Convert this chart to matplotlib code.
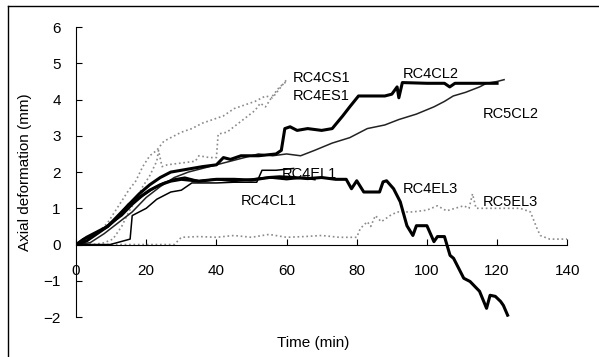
import matplotlib
matplotlib.use("Agg")
import matplotlib.pyplot as plt
from matplotlib.lines import Line2D

plt.rcParams["font.family"] = ["Liberation Sans", "DejaVu Sans"]

# Data (time in min, axial deformation in mm)
t_cs1 = [0, 3, 6, 9, 11, 13, 15, 17, 19, 21, 23, 25, 28, 30, 33, 36, 39, 42, 45, 48, 51, 54, 56, 58, 60]
y_cs1 = [0, 0.1, 0.3, 0.6, 0.9, 1.2, 1.5, 1.75, 2.15, 2.45, 2.6, 2.85, 3.0, 3.1, 3.2, 3.35, 3.45, 3.55, 3.75,
         3.85, 3.95, 4.1, 4.05, 4.3, 4.55]

t_es1 = [0, 5, 8, 10.5, 13, 15, 17.5, 19, 21, 23, 23.5, 24.5, 26, 30, 34, 35, 38, 40, 40.5, 43, 45, 47, 49, 51,
         52.5, 54, 56, 58, 60]
y_es1 = [0, 0, 0.05, 0.15, 0.5, 0.9, 1.3, 1.6, 1.9, 2.3, 2.6, 2.15, 2.2, 2.25, 2.3, 2.45, 2.4, 2.4, 3.05, 3.1,
         3.25, 3.4, 3.55, 3.7, 3.9, 3.8, 4.1, 4.35, 4.5]

t_cl2 = [0, 3, 6, 9, 12, 15, 18, 21, 24, 27, 30, 33, 36, 40, 42, 44, 47, 52, 57, 58.5, 59.5, 61, 63, 66, 70, 73,
         76, 78, 80.5, 85, 88, 90, 91.5, 92, 93, 100, 105, 106.5, 108, 115, 120]
y_cl2 = [0, 0.1, 0.3, 0.5, 0.8, 1.1, 1.4, 1.65, 1.85, 2.0, 2.05, 2.1, 2.15, 2.2, 2.4, 2.35, 2.45, 2.45, 2.5, 2.6,
         3.2, 3.25, 3.15, 3.2, 3.15, 3.2, 3.55, 3.8, 4.1, 4.1, 4.1, 4.15, 4.35, 4.05, 4.47, 4.45, 4.45, 4.35, 4.45,
         4.45, 4.45]

t_5cl2 = [0, 4, 8, 12, 16, 20, 24, 28, 32, 36, 40, 44, 48, 52, 56, 60, 64, 68, 73, 78, 83, 88, 92, 97, 102, 105,
          107.5, 111, 115, 117, 120, 122]
y_5cl2 = [0, 0.05, 0.3, 0.6, 0.9, 1.3, 1.6, 1.85, 2.0, 2.1, 2.2, 2.3, 2.4, 2.5, 2.45, 2.5, 2.45, 2.6, 2.8, 2.95,
          3.2, 3.3, 3.45, 3.6, 3.8, 3.95, 4.1, 4.2, 4.35, 4.45, 4.5, 4.55]

t_el1 = [0, 2, 5, 8, 10, 13, 16, 19, 22, 25, 28, 31, 35, 40, 45, 50, 55, 60, 65, 68]
y_el1 = [0, 0.15, 0.25, 0.45, 0.6, 0.8, 1.1, 1.35, 1.55, 1.7, 1.8, 1.85, 1.75, 1.8, 1.75, 1.8, 1.85, 1.8, 1.85, 1.8]

t_cl1 = [0, 9.7, 15.4, 16, 20, 23, 27, 30, 33, 40, 45, 51.5, 53, 57, 62]
y_cl1 = [0, 0, 0.15, 0.8, 1.0, 1.25, 1.45, 1.5, 1.7, 1.7, 1.72, 1.72, 2.05, 2.05, 2.1]

t_el3 = [0, 3, 6, 9, 12, 15, 18, 21, 24, 27, 30, 35, 40, 45, 50, 55, 58, 62, 66, 70, 74, 77, 78.5, 80, 82, 86.5,
         87.5, 88.5, 90.5, 92.4, 94.3, 96, 97, 100, 102, 103, 105, 106.6, 107.6, 110.5, 112.3, 115, 117, 118,
         119.5, 121, 121.8, 123]
y_el3 = [0, 0.2, 0.35, 0.5, 0.75, 1.1, 1.3, 1.5, 1.65, 1.75, 1.8, 1.75, 1.8, 1.8, 1.78, 1.85, 1.87, 1.85, 1.82,
         1.85, 1.8, 1.8, 1.54, 1.76, 1.45, 1.45, 1.73, 1.76, 1.54, 1.18, 0.52, 0.25, 0.52, 0.52, 0.08, 0.22, 0.22,
         -0.3, -0.38, -0.93, -1.02, -1.29, -1.76, -1.4, -1.43, -1.57, -1.68, -1.95]

t_5el3 = [0, 28, 30, 35, 40, 45, 50, 55, 60, 65, 70, 75, 80, 81, 83, 84, 85.3, 87, 89.5, 91.5, 96, 100, 103,
          105.6, 108, 110.5, 112, 113, 114, 120, 126.6, 129.5, 131.4, 132.3, 135, 140]
y_5el3 = [0, 0, 0.2, 0.22, 0.2, 0.25, 0.2, 0.28, 0.2, 0.22, 0.25, 0.2, 0.2, 0.44, 0.63, 0.5, 0.8, 0.63, 0.8, 0.9,
          0.9, 0.95, 1.07, 0.93, 1.0, 1.07, 1.0, 1.4, 1.0, 1.0, 1.0, 0.9, 0.44, 0.25, 0.15, 0.15]

# label text and where it sits (left edge, vertical centre) in data units
labels = ["RC4CS1", "RC4ES1", "RC4CL2", "RC5CL2", "RC4EL1", "RC4CL1", "RC4EL3", "RC5EL3"]
label_x = [61.9, 61.9, 93, 115.8, 58.5, 46.8, 93, 115.8]
label_y = [4.6, 4.09, 4.72, 3.6, 1.95, 1.21, 1.54, 1.18]

fig = plt.figure(figsize=(5.99, 3.57), dpi=100)
ax = fig.add_axes([0.127, 0.112, 0.82, 0.812])

gray = "#8a8a8a"
ax.plot(t_cs1, y_cs1, color=gray, lw=1.2, ls=":")
ax.plot(t_es1, y_es1, color=gray, lw=1.2, ls=":")
ax.plot(t_5el3, y_5el3, color=gray, lw=1.2, ls=":")
ax.plot(t_5cl2, y_5cl2, color="#222222", lw=1.1)
ax.plot(t_cl1, y_cl1, color="black", lw=1.1)
ax.plot(t_el1, y_el1, color="black", lw=1.6)
ax.plot(t_cl2, y_cl2, color="black", lw=2.2)
ax.plot(t_el3, y_el3, color="black", lw=2.2)

for txt, lx, ly in zip(labels, label_x, label_y):
    ax.text(lx, ly, txt, fontsize=10.5, ha="left", va="center")

ax.set_xlim(0, 140)
ax.set_ylim(-2, 6)
ax.set_xticks(range(0, 141, 20))
ax.set_yticks(range(-2, 7))
ax.set_yticklabels(["\u22122", "\u22121"] + [str(v) for v in range(0, 7)])

ax.spines["top"].set_visible(False)
ax.spines["right"].set_visible(False)
ax.spines["bottom"].set_position(("data", 0))
ax.tick_params(axis="x", direction="in", length=4, pad=14, labelsize=11)
ax.tick_params(axis="y", direction="in", length=4, pad=11, labelsize=11)

ax.set_ylabel("Axial deformation (mm)", fontsize=11, labelpad=8)
fig.text(313 / 599, 1 - 343 / 357, "Time (min)", fontsize=11, ha="center", va="center")

# scan border along the top and left edges
fig.add_artist(Line2D([8 / 599, 1], [1 - 6 / 357] * 2, color="black", lw=1))
fig.add_artist(Line2D([8 / 599] * 2, [0, 1 - 6 / 357], color="black", lw=1))

fig.savefig("out.png", dpi=100)
